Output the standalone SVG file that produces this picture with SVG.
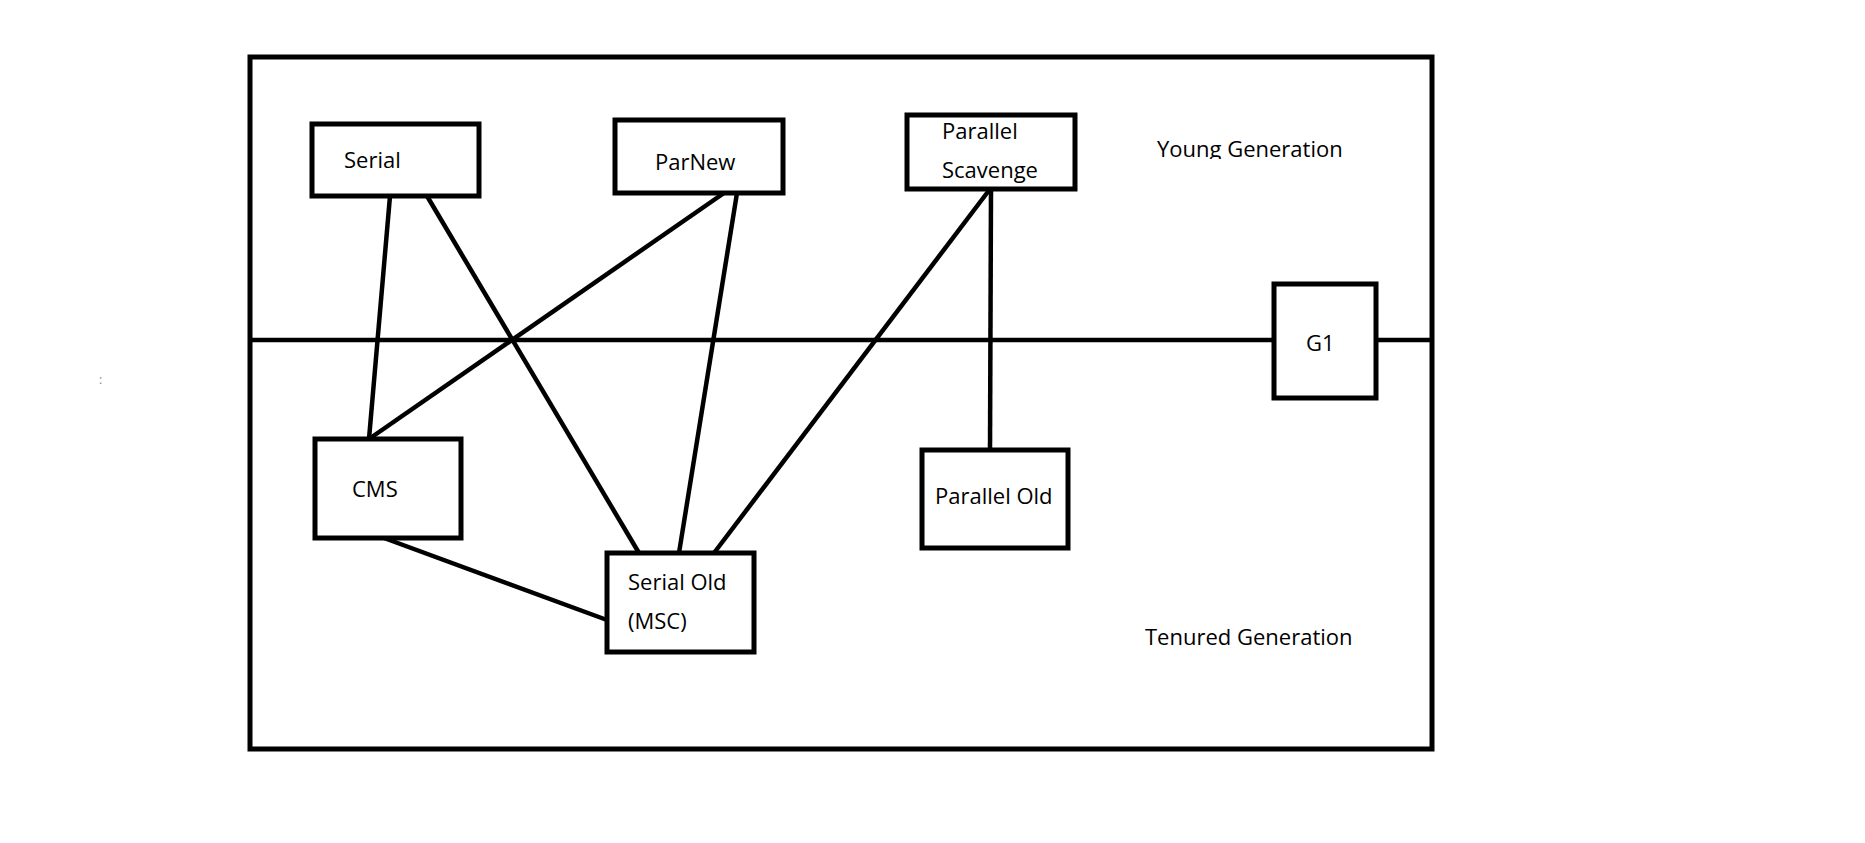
<svg xmlns="http://www.w3.org/2000/svg" width="1865" height="843" viewBox="0 0 1865 843">
<style>
.box{fill:#fff;stroke:#000;stroke-width:5}
.frame{fill:none;stroke:#000;stroke-width:5}
.ln{stroke:#000;stroke-width:4.5;fill:none}
text{font-family:"Open Sans","Noto Sans",sans-serif;font-size:22px;fill:#000}
</style>
<defs>
<clipPath id="yg"><rect x="1100" y="120" width="300" height="39"/></clipPath>
</defs>
<rect width="1865" height="843" fill="#fff"/>
<g id="frame">
<rect class="frame" x="250" y="57" width="1182" height="692"/>
<line class="ln" x1="250" y1="340" x2="1274" y2="340"/>
<line class="ln" x1="1376" y1="340" x2="1432" y2="340"/>
</g>
<g id="connectors">
<line class="ln" x1="390" y1="196" x2="369" y2="439"/>
<line class="ln" x1="427" y1="196" x2="639" y2="553"/>
<line class="ln" x1="724" y1="193" x2="369" y2="439"/>
<line class="ln" x1="737" y1="193" x2="679" y2="553"/>
<line class="ln" x1="990" y1="189" x2="714" y2="553"/>
<line class="ln" x1="991" y1="189" x2="990" y2="450"/>
<line class="ln" x1="384" y1="538" x2="607" y2="620"/>
</g>
<g id="serial"><rect class="box" x="312" y="124" width="167" height="72"/><text x="344" y="168">Serial</text></g>
<g id="parnew"><rect class="box" x="615" y="120" width="168" height="73"/><text x="655" y="170">ParNew</text></g>
<g id="parallel-scavenge"><rect class="box" x="907" y="115" width="168" height="74"/><text x="942" y="139">Parallel</text><text x="942" y="178">Scavenge</text></g>
<g id="g1"><rect class="box" x="1274" y="284" width="102" height="114"/><text x="1306" y="351">G1</text></g>
<g id="cms"><rect class="box" x="315" y="439" width="146" height="99"/><text x="352" y="497">CMS</text></g>
<g id="serial-old"><rect class="box" x="607" y="553" width="147" height="99"/><text x="628" y="590">Serial Old</text><text x="628" y="629">(MSC)</text></g>
<g id="parallel-old"><rect class="box" x="922" y="450" width="146" height="98"/><text x="935" y="504">Parallel Old</text></g>
<g id="labels">
<text x="1157" y="157" clip-path="url(#yg)">Young Generation</text>
<text x="1145" y="645">Tenured Generation</text>
<text x="99" y="384" style="font-size:12px;fill:#888">:</text>
</g>
</svg>
